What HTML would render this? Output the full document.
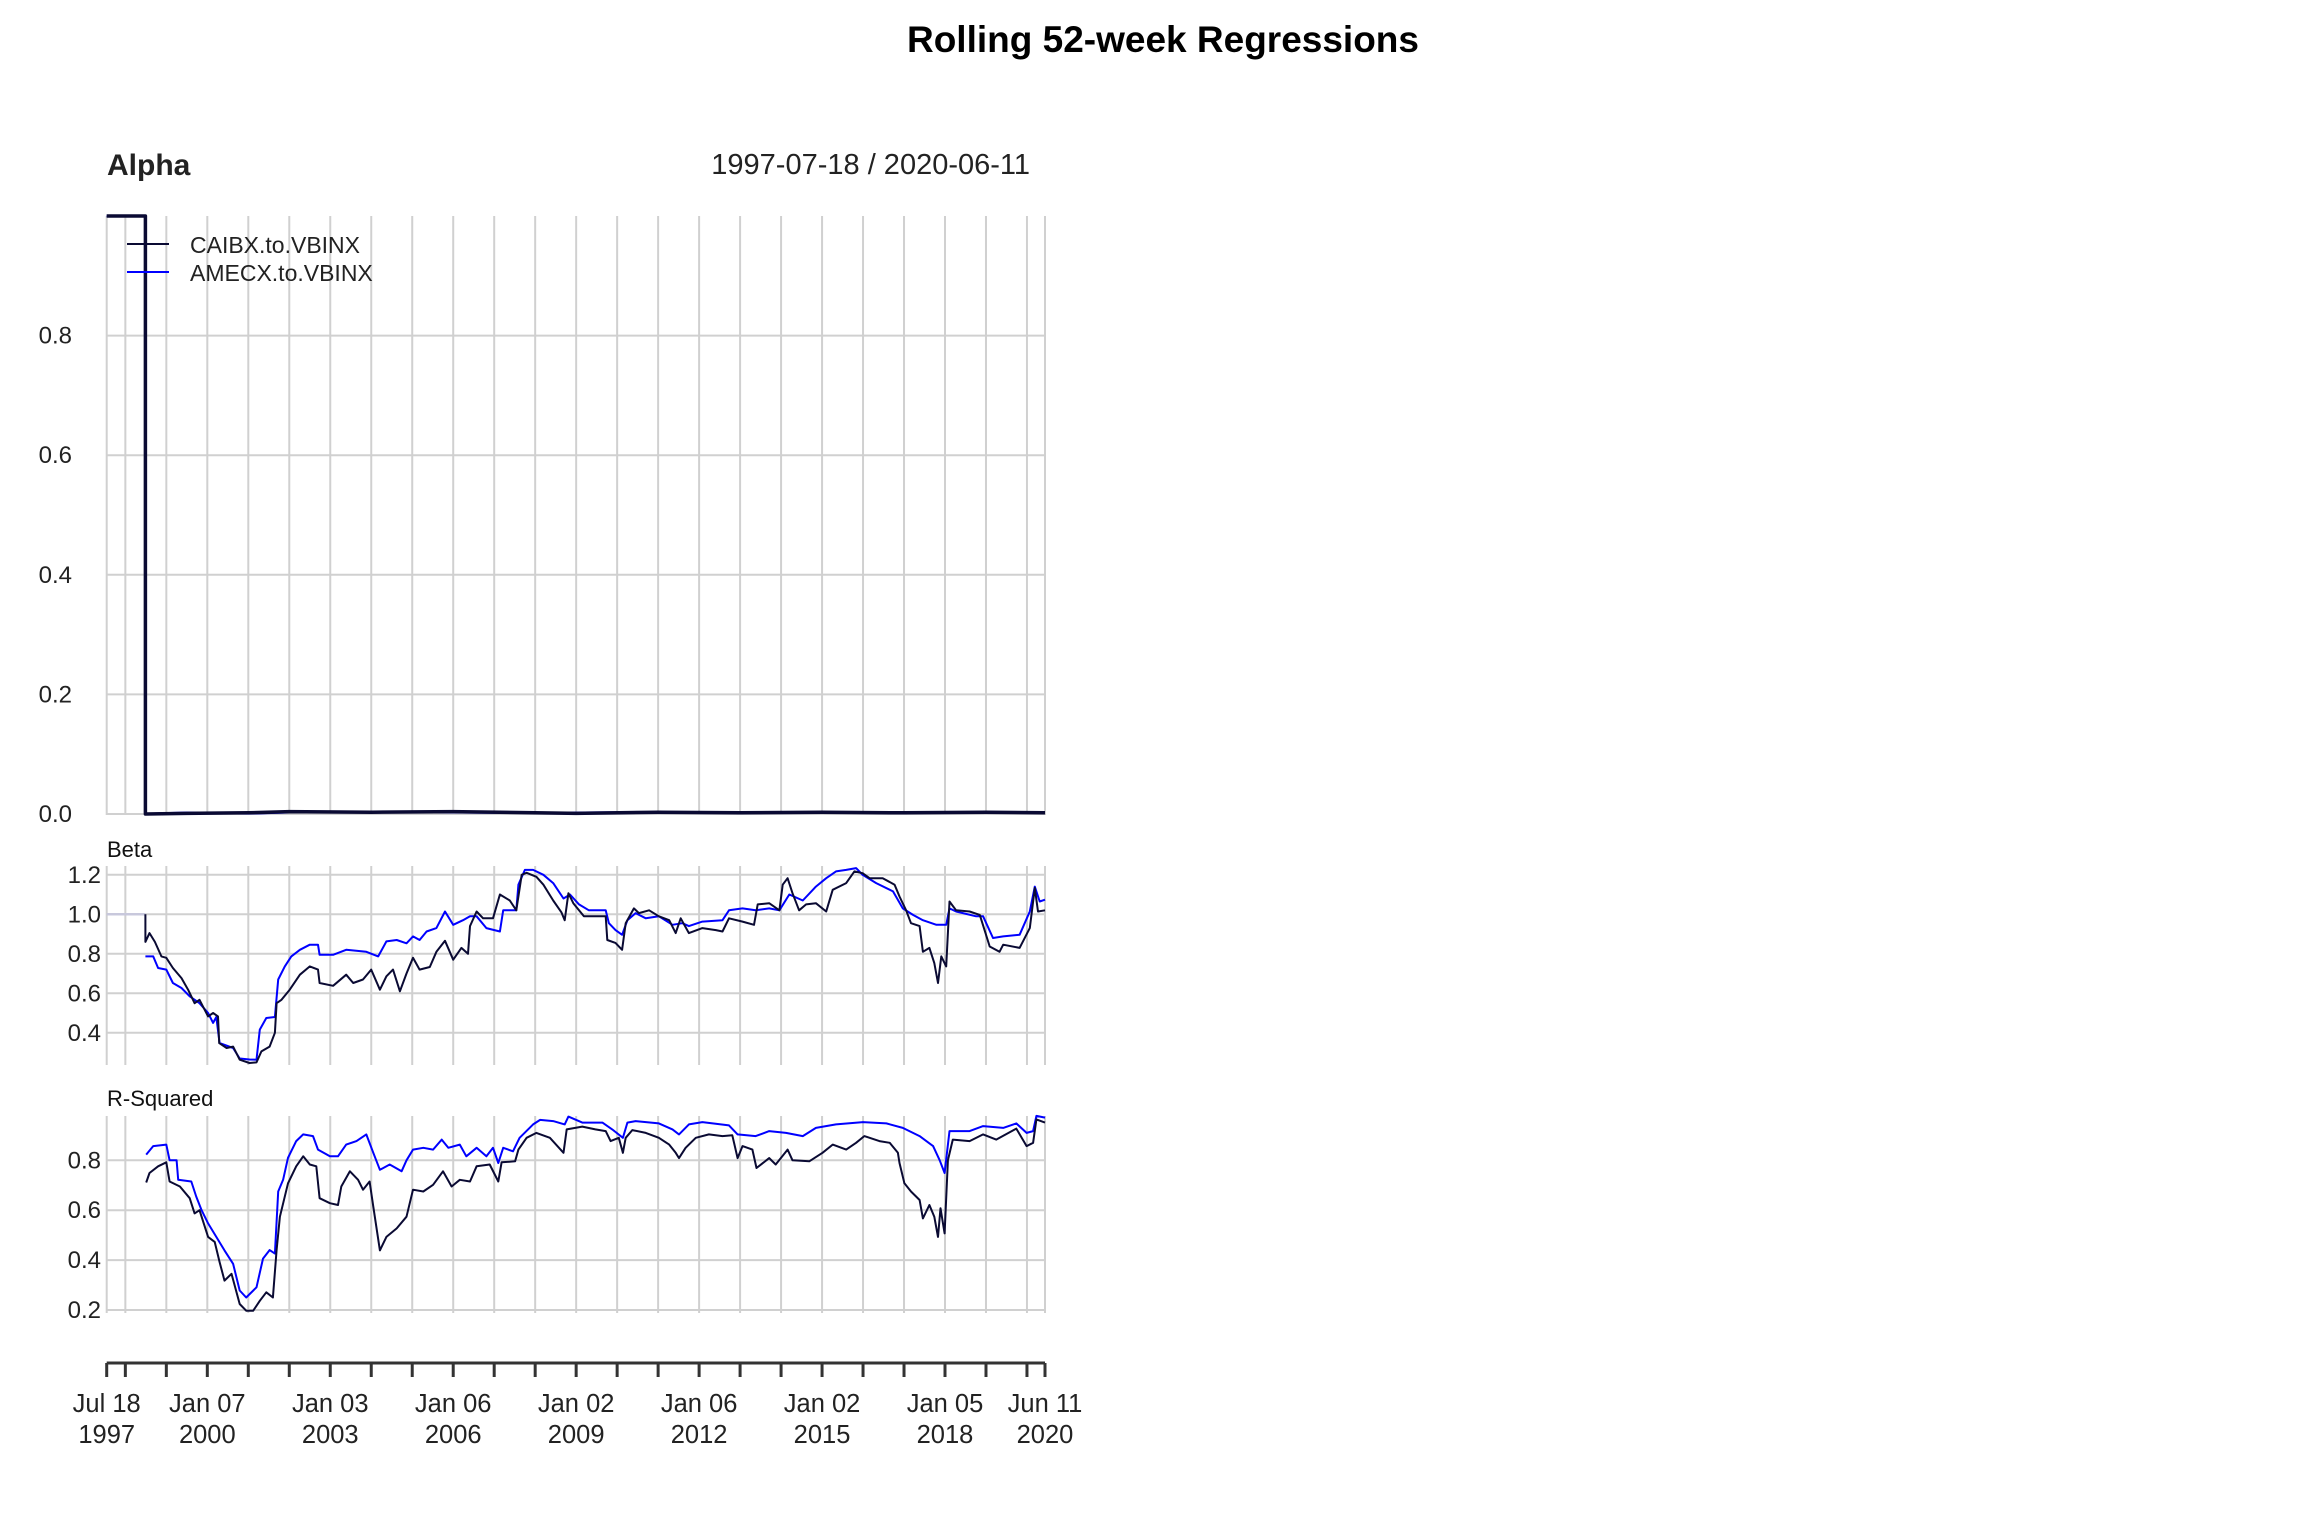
<!DOCTYPE html>
<html><head><meta charset="utf-8"><title>Rolling 52-week Regressions</title>
<style>
html,body{margin:0;padding:0;background:#fff;}
svg{display:block;font-family:"Liberation Sans",Arial,sans-serif;}
</style></head>
<body>
<svg id="chart" width="2304" height="1536" viewBox="0 0 2304 1536" xmlns="http://www.w3.org/2000/svg">
<rect x="0" y="0" width="2304" height="1536" fill="#fff"/>
<text x="1163" y="52" text-anchor="middle" font-size="37" font-weight="bold" fill="#000">Rolling 52-week Regressions</text>
<text x="107" y="175" font-size="30" font-weight="bold" fill="#222">Alpha</text>
<text x="1030" y="174" text-anchor="end" font-size="29" fill="#222">1997-07-18 / 2020-06-11</text>
<text x="107" y="857" font-size="22" fill="#111">Beta</text>
<text x="107" y="1106" font-size="22" fill="#111">R-Squared</text>
<g id="grid"></g>
<g id="series"></g>
<g id="axes"></g>
<g>
  <line x1="127" y1="244" x2="169" y2="244" stroke="#0a0a33" stroke-width="2"/>
  <text x="190" y="253" font-size="23" fill="#222">CAIBX.to.VBINX</text>
  <line x1="127" y1="272" x2="169" y2="272" stroke="#0000ff" stroke-width="2"/>
  <text x="190" y="281" font-size="23" fill="#222">AMECX.to.VBINX</text>
</g>
</svg>
<script>
// ---- data ----
const startDate = 1997.545, endDate = 2020.44;
const initPeriod = [1997.545, 1998.49];
const initBeta = 1.0;

const alphaDates = [1997.545,1998.49,1998.49,1999.5,2001,2002,2004,2006,2008,2009,2011,2013,2015,2017,2019,2020.44];
const alphaCaibx = [1,1,0,0.001,0.002,0.004,0.003,0.004,0.002,0.001,0.003,0.002,0.003,0.002,0.003,0.002];
const alphaAmecx = [1,1,0,0.002,0.001,0.003,0.003,0.003,0.002,0.002,0.003,0.002,0.002,0.002,0.002,0.002];

const betaCaibxDates = [1998.49,1998.49,1998.59,1998.72,1998.88,1999.00,1999.16,1999.37,1999.53,1999.69,
1999.81,2000.02,2000.14,2000.26,2000.29,2000.47,2000.63,2000.79,2001.03,2001.20,
2001.32,2001.52,2001.65,2001.69,2001.81,2002.01,2002.26,2002.50,2002.70,2002.74,
2003.07,2003.39,2003.56,2003.80,2004.00,2004.21,2004.37,2004.53,2004.70,2004.86,
2005.02,2005.18,2005.43,2005.59,2005.80,2006.00,2006.20,2006.36,2006.41,2006.57,
2006.73,2006.97,2007.14,2007.38,2007.54,2007.67,2007.79,2008.03,2008.20,2008.44,
2008.64,2008.72,2008.81,2008.93,2009.19,2009.72,2009.76,2009.96,2010.12,2010.21,
2010.41,2010.53,2010.78,2011.02,2011.27,2011.43,2011.55,2011.75,2012.08,2012.41,
2012.57,2012.73,2013.06,2013.34,2013.43,2013.71,2013.96,2014.04,2014.16,2014.28,
2014.44,2014.61,2014.85,2015.10,2015.26,2015.59,2015.79,2015.99,2016.16,2016.48,
2016.77,2016.89,2017.05,2017.17,2017.38,2017.46,2017.62,2017.74,2017.83,2017.91,
2018.03,2018.11,2018.27,2018.60,2018.85,2019.09,2019.33,2019.42,2019.82,2020.07,
2020.19,2020.27,2020.44];
const betaCaibx = [1.0,0.86,0.905,0.86,0.787,0.78,0.728,0.677,0.618,0.55,
0.567,0.483,0.50,0.483,0.348,0.323,0.33,0.264,0.247,0.25,
0.306,0.33,0.40,0.55,0.567,0.618,0.694,0.736,0.72,0.652,
0.638,0.694,0.652,0.67,0.72,0.618,0.686,0.72,0.61,0.70,
0.78,0.72,0.733,0.81,0.866,0.77,0.83,0.80,0.94,1.014,
0.98,0.98,1.10,1.07,1.02,1.20,1.21,1.19,1.15,1.07,
1.01,0.97,1.107,1.056,0.99,0.99,0.87,0.855,0.82,0.955,
1.03,1.006,1.02,0.99,0.97,0.905,0.98,0.905,0.93,0.92,
0.913,0.98,0.963,0.947,1.05,1.056,1.02,1.15,1.183,1.107,
1.02,1.05,1.056,1.014,1.124,1.158,1.217,1.208,1.183,1.183,
1.15,1.09,1.02,0.955,0.94,0.81,0.83,0.753,0.652,0.787,
0.736,1.065,1.02,1.014,0.997,0.837,0.81,0.846,0.83,0.93,
1.133,1.014,1.02];

const betaAmecxDates = [1998.49,1998.68,1998.80,1999.00,1999.16,1999.37,1999.57,1999.81,2000.02,2000.14,
2000.22,2000.30,2000.63,2000.79,2001.03,2001.20,2001.28,2001.44,2001.65,2001.73,
2001.89,2002.05,2002.26,2002.50,2002.70,2002.74,2003.07,2003.39,2003.88,2004.17,
2004.37,2004.62,2004.86,2005.02,2005.18,2005.35,2005.59,2005.80,2006.00,2006.24,
2006.41,2006.57,2006.81,2007.14,2007.22,2007.46,2007.54,2007.59,2007.75,2007.95,
2008.20,2008.44,2008.69,2008.85,2009.07,2009.31,2009.72,2009.80,2009.96,2010.12,
2010.25,2010.45,2010.70,2011.02,2011.35,2011.59,2011.75,2012.08,2012.57,2012.73,
2013.06,2013.38,2013.71,2013.96,2014.20,2014.53,2014.85,2015.10,2015.34,2015.59,
2015.83,2015.99,2016.32,2016.73,2016.97,2017.22,2017.46,2017.79,2018.03,2018.11,
2018.27,2018.76,2018.93,2019.17,2019.42,2019.82,2020.07,2020.19,2020.31,2020.44];
const betaAmecx = [0.787,0.787,0.728,0.72,0.652,0.627,0.585,0.55,0.50,0.45,
0.48,0.348,0.323,0.27,0.265,0.264,0.416,0.475,0.48,0.67,
0.736,0.787,0.82,0.846,0.846,0.795,0.795,0.82,0.81,0.787,
0.863,0.87,0.853,0.888,0.87,0.913,0.93,1.014,0.947,0.97,
0.99,0.99,0.93,0.913,1.02,1.02,1.02,1.15,1.225,1.225,
1.2,1.158,1.08,1.1,1.05,1.02,1.02,0.955,0.92,0.896,
0.97,1.006,0.98,0.99,0.947,0.955,0.94,0.963,0.97,1.02,
1.03,1.02,1.03,1.02,1.1,1.07,1.14,1.183,1.217,1.225,
1.234,1.2,1.158,1.116,1.03,0.997,0.97,0.947,0.947,1.03,
1.014,0.99,0.99,0.88,0.888,0.896,1.014,1.14,1.065,1.074];

const rsqCaibxDates = [1998.51,1998.59,1998.80,1999.00,1999.08,1999.33,1999.57,1999.69,1999.81,2000.02,
2000.18,2000.30,2000.42,2000.59,2000.79,2000.95,2001.12,2001.28,2001.44,2001.60,
2001.69,2001.77,2001.97,2002.17,2002.34,2002.50,2002.66,2002.74,2002.99,2003.19,
2003.27,2003.48,2003.68,2003.80,2003.96,2004.05,2004.21,2004.37,2004.62,2004.86,
2005.02,2005.27,2005.51,2005.75,2005.96,2006.16,2006.41,2006.57,2006.89,2007.10,
2007.18,2007.51,2007.59,2007.79,2008.03,2008.36,2008.69,2008.77,2009.15,2009.47,
2009.72,2009.84,2010.04,2010.14,2010.21,2010.37,2010.70,2011.02,2011.27,2011.43,
2011.51,2011.67,2011.92,2012.24,2012.57,2012.81,2012.94,2013.06,2013.30,2013.40,
2013.71,2013.87,2014.16,2014.28,2014.69,2015.01,2015.26,2015.59,2015.83,2016.03,
2016.40,2016.65,2016.85,2016.89,2017.01,2017.17,2017.38,2017.46,2017.62,2017.74,
2017.83,2017.89,2017.99,2018.07,2018.19,2018.60,2018.93,2019.25,2019.74,2019.99,
2020.15,2020.23,2020.44];
const rsqCaibx = [0.711,0.749,0.776,0.792,0.715,0.695,0.648,0.587,0.60,0.493,
0.473,0.392,0.318,0.345,0.224,0.197,0.197,0.237,0.271,0.25,
0.44,0.574,0.708,0.776,0.816,0.783,0.776,0.648,0.628,0.621,
0.695,0.756,0.722,0.682,0.715,0.614,0.439,0.493,0.527,0.574,
0.682,0.675,0.702,0.756,0.695,0.722,0.715,0.776,0.783,0.715,
0.792,0.796,0.843,0.89,0.91,0.89,0.83,0.924,0.935,0.924,
0.917,0.877,0.89,0.83,0.89,0.921,0.91,0.89,0.863,0.83,
0.809,0.85,0.89,0.904,0.897,0.90,0.809,0.857,0.843,0.769,
0.809,0.783,0.843,0.80,0.796,0.83,0.863,0.843,0.87,0.897,
0.877,0.87,0.83,0.789,0.708,0.675,0.641,0.567,0.621,0.574,
0.493,0.608,0.507,0.80,0.883,0.877,0.904,0.883,0.927,0.857,
0.87,0.964,0.951];

const rsqAmecxDates = [1998.51,1998.68,1999.00,1999.08,1999.25,1999.29,1999.61,1999.73,1999.86,2000.02,
2000.22,2000.42,2000.63,2000.79,2000.95,2001.20,2001.36,2001.52,2001.65,2001.73,
2001.85,2001.97,2002.17,2002.34,2002.58,2002.70,2002.99,2003.19,2003.39,2003.64,
2003.88,2004.05,2004.21,2004.45,2004.74,2004.86,2005.02,2005.27,2005.51,2005.72,
2005.88,2006.16,2006.32,2006.57,2006.81,2006.97,2007.10,2007.22,2007.46,2007.62,
2007.95,2008.12,2008.44,2008.72,2008.81,2009.15,2009.64,2009.88,2010.14,2010.25,
2010.45,2011.02,2011.35,2011.51,2011.75,2012.08,2012.73,2012.94,2013.38,2013.71,
2014.12,2014.53,2014.85,2015.34,2016.00,2016.57,2016.97,2017.38,2017.71,2017.87,
2017.99,2018.11,2018.60,2018.93,2019.42,2019.74,2019.99,2020.15,2020.23,2020.44];
const rsqAmecx = [0.823,0.857,0.863,0.80,0.80,0.722,0.715,0.655,0.60,0.547,
0.493,0.439,0.385,0.278,0.25,0.291,0.406,0.44,0.426,0.675,
0.722,0.81,0.877,0.904,0.897,0.843,0.816,0.816,0.863,0.877,
0.904,0.83,0.762,0.783,0.756,0.80,0.843,0.85,0.843,0.883,
0.85,0.863,0.816,0.85,0.816,0.85,0.789,0.85,0.836,0.89,
0.944,0.962,0.957,0.944,0.975,0.951,0.951,0.924,0.89,0.951,
0.957,0.948,0.924,0.904,0.944,0.953,0.94,0.904,0.897,0.917,
0.91,0.897,0.93,0.944,0.953,0.948,0.93,0.897,0.857,0.80,
0.749,0.917,0.917,0.937,0.93,0.948,0.91,0.917,0.978,0.971];

const alphaTicks = [0.0,0.2,0.4,0.6,0.8];
const betaTicks = [0.4,0.6,0.8,1.0,1.2];
const rsqTicks = [0.2,0.4,0.6,0.8];
const xLabelDates = [1997.545,2000.0,2003.0,2006.0,2009.0,2012.0,2015.0,2018.0,2020.44];
const xLabelTop = ["Jul 18","Jan 07","Jan 03","Jan 06","Jan 02","Jan 06","Jan 02","Jan 05","Jun 11"];
const xLabelBottom = ["1997","2000","2003","2006","2009","2012","2015","2018","2020"];
const gridYears = [1998,1999,2000,2001,2002,2003,2004,2005,2006,2007,2008,2009,2010,2011,2012,2013,2014,2015,2016,2017,2018,2019,2020];

// ---- scales ----
const X0 = 106.7, X1 = 1045;
function X(t){ return X0 + (t - startDate) / (endDate - startDate) * (X1 - X0); }
function yAlpha(v){ return 814 - v * 598; }
function yBeta(v){ return 914.3 - (v - 1.0) * 197.5; }
function yRsq(v){ return 1160.3 - (v - 0.8) * 249.5; }
const panels = [
  {name:'alpha', top:216, bottom:815, y:yAlpha, ticks:alphaTicks, labelX:72},
  {name:'beta', top:866, bottom:1065, y:yBeta, ticks:betaTicks, labelX:101},
  {name:'rsq', top:1116, bottom:1313, y:yRsq, ticks:rsqTicks, labelX:101}
];
const NS = 'http://www.w3.org/2000/svg';
function mk(tag, attrs, parent){
  const el = document.createElementNS(NS, tag);
  for (const k in attrs) el.setAttribute(k, attrs[k]);
  parent.appendChild(el);
  return el;
}
const grid = document.getElementById('grid');
const series = document.getElementById('series');
const axes = document.getElementById('axes');

panels.forEach(p => {
  const vxs = [startDate].concat(gridYears, [endDate]);
  vxs.forEach(t => {
    const l = mk('line', {x1:X(t), x2:X(t), y1:p.top, y2:p.bottom, stroke:'#d0d0d0', 'stroke-width':2}, grid);
    
    
  });
  p.ticks.forEach(v => {
    const l = mk('line', {x1:X0, x2:X1, y1:p.y(v), y2:p.y(v), stroke:'#d0d0d0', 'stroke-width':2}, grid);
    
    
    const tx = mk('text', {x:p.labelX, y:p.y(v) + 8, 'text-anchor':'end', 'font-size':24, fill:'#222'}, axes);
    tx.textContent = v.toFixed(1);
    
    
  });
});

function path(dates, vals, yf, color, w, name){
  let d = '';
  for (let i = 0; i < dates.length; i++) d += (i ? 'L' : 'M') + X(dates[i]).toFixed(1) + ' ' + yf(vals[i]).toFixed(1);
  const el = mk('path', {d:d, fill:'none', stroke:color, 'stroke-width':w, 'stroke-linejoin':'round'}, series);
  
  
}
const NAVY = '#0a0a33', BLUE = '#0000ff';
path(alphaDates, alphaAmecx, yAlpha, BLUE, 2.5, 'alpha-line-amecx');
path(alphaDates, alphaCaibx, yAlpha, NAVY, 3.5, 'alpha-line-caibx');
path(initPeriod, [initBeta, initBeta], yBeta, '#c8c8dc', 2.5, 'beta-initial-segment');
path(betaAmecxDates, betaAmecx, yBeta, BLUE, 2, 'beta-line-amecx');
path(betaCaibxDates, betaCaibx, yBeta, NAVY, 2, 'beta-line-caibx');
path(rsqAmecxDates, rsqAmecx, yRsq, BLUE, 2, 'rsq-line-amecx');
path(rsqCaibxDates, rsqCaibx, yRsq, NAVY, 2, 'rsq-line-caibx');

// x axis
const axisY = 1363;
const ax = mk('line', {x1:X0, x2:X1, y1:axisY, y2:axisY, stroke:'#333', 'stroke-width':3}, axes);


[startDate].concat(gridYears, [endDate]).forEach(t => {
  const tk = mk('line', {x1:X(t), x2:X(t), y1:axisY, y2:axisY + 14, stroke:'#333', 'stroke-width':3}, axes);
  
  
});
xLabelDates.forEach((t, i) => {
  const a = mk('text', {x:X(t), y:1412, 'text-anchor':'middle', 'font-size':25.5, fill:'#222'}, axes);
  a.textContent = xLabelTop[i];
  
  
  const b = mk('text', {x:X(t), y:1443, 'text-anchor':'middle', 'font-size':25.5, fill:'#222'}, axes);
  b.textContent = xLabelBottom[i];
  
  
});
</script>
</body></html>
